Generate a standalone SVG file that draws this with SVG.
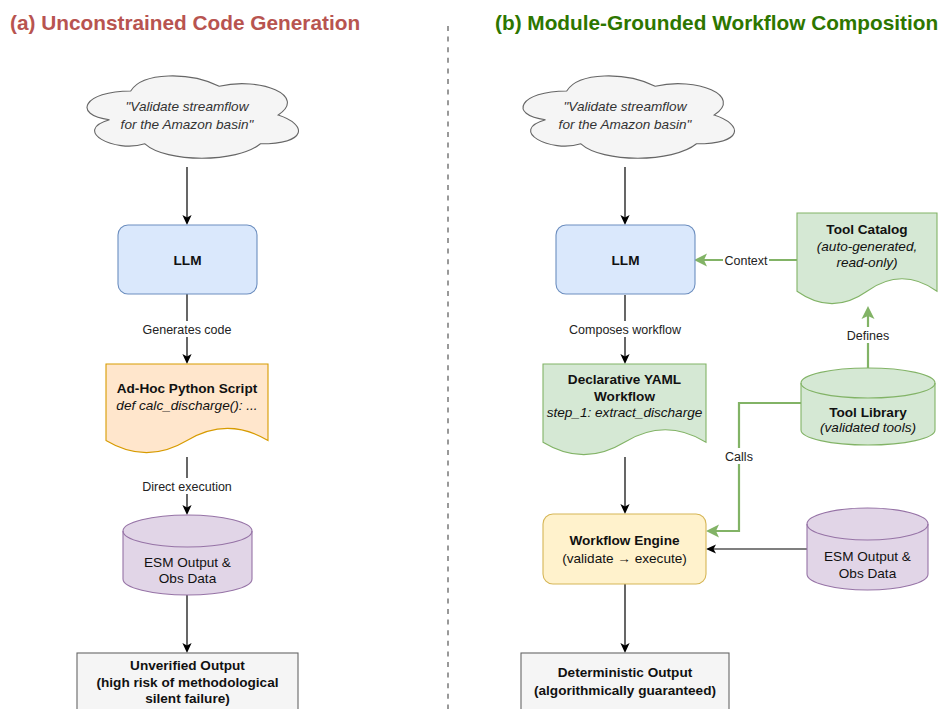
<svg xmlns="http://www.w3.org/2000/svg" width="940" height="709" viewBox="0 0 940 709">
<defs>
<style>
text{font-family:"Liberation Sans",Arial,Helvetica,sans-serif;}
.title{font-size:20.8px;font-weight:bold;}
.t{font-size:13.6px;fill:#111;text-anchor:middle;}
.b{font-weight:bold;}
.i{font-style:italic;}
.cl{font-size:13.6px;fill:#333;font-style:italic;text-anchor:middle;}
.lbl{font-size:12.5px;fill:#222;text-anchor:middle;}
.k{fill:none;stroke:#000;stroke-width:1.2;}
.g{fill:none;stroke:#82b366;stroke-width:2.2;}
.bg{fill:#fff;}
.cloud{fill:#f5f5f5;stroke:#666;stroke-width:1.1;}
.blue{fill:#dae8fc;stroke:#6c8ebf;stroke-width:1.1;}
.orange{fill:#ffe6cc;stroke:#d79b00;stroke-width:1.1;}
.green{fill:#d5e8d4;stroke:#82b366;stroke-width:1.1;}
.purple{fill:#e1d5e7;stroke:#9673a6;stroke-width:1.1;}
.yellow{fill:#fff2cc;stroke:#d6b656;stroke-width:1.1;}
.gray{fill:#f5f5f5;stroke:#666;stroke-width:1.1;}
</style>
<marker id="ab" markerUnits="userSpaceOnUse" markerWidth="14" markerHeight="14" viewBox="-6 -7 14 14" refX="0" refY="0" orient="auto">
<path d="M6,0 L-4,-4.6 L-1.5,0 L-4,4.6 Z" fill="#000"/>
</marker>
<marker id="ag" markerUnits="userSpaceOnUse" markerWidth="18" markerHeight="18" viewBox="-8 -9 18 18" refX="0" refY="0" orient="auto">
<path d="M7,0 L-6,-6.5 L-3,0 L-6,6.5 Z" fill="#82b366"/>
</marker>
<path id="cloudShape" d="M130.7,91 C83.5,91 71.7,115 109.5,119.8 C71.7,130.4 114.2,153.4 144.9,143.8 C166.1,163 236.9,163 260.5,143.8 C307.7,143.8 307.7,124.6 278.2,115 C307.7,95.8 260.5,76.6 219.2,86.2 C189.7,71.8 142.5,71.8 130.7,91 Z"/>
</defs>
<rect x="0" y="0" width="940" height="709" fill="#ffffff"/>

<g id="titles">
<text class="title" x="10" y="30" fill="#b85450">(a) Unconstrained Code Generation</text>
<text class="title" x="495" y="30" fill="#2d7600">(b) Module-Grounded Workflow Composition</text>
</g>

<g id="divider">
<line x1="448" y1="26" x2="448" y2="709" stroke="#999" stroke-width="2" stroke-dasharray="5 5.6"/>
</g>

<g id="connectors">
<path class="k" d="M187,167 V219" marker-end="url(#ab)"/>
<path class="k" d="M187,294 V358" marker-end="url(#ab)"/>
<path class="k" d="M187,457 V509" marker-end="url(#ab)"/>
<path class="k" d="M187,595 V647" marker-end="url(#ab)"/>
<path class="k" d="M625,167 V219" marker-end="url(#ab)"/>
<path class="k" d="M625,295 V358" marker-end="url(#ab)"/>
<path class="k" d="M625,457 V508" marker-end="url(#ab)"/>
<path class="k" d="M625,584 V647" marker-end="url(#ab)"/>
<path class="k" d="M807,549 H712" marker-end="url(#ab)"/>
<path class="g" d="M797,260 H701" marker-end="url(#ag)"/>
<path class="g" d="M868,368 V313" marker-end="url(#ag)"/>
<path class="g" d="M801,403 H739 V531 H713" marker-end="url(#ag)"/>
<rect class="bg" x="141" y="321" width="92" height="16"/>
<text class="lbl" x="187" y="333.5">Generates code</text>
<rect class="bg" x="141" y="478" width="92" height="16"/>
<text class="lbl" x="187" y="490.5">Direct execution</text>
<rect class="bg" x="567" y="321" width="116" height="16"/>
<text class="lbl" x="625" y="333.5">Composes workflow</text>
<rect class="bg" x="723" y="252" width="46" height="16"/>
<text class="lbl" x="746" y="264.5">Context</text>
<rect class="bg" x="845" y="327" width="46" height="16"/>
<text class="lbl" x="868" y="339.5">Defines</text>
<rect class="bg" x="724" y="448" width="30" height="16"/>
<text class="lbl" x="739" y="460.5">Calls</text>
</g>

<g id="cloud-a">
<use href="#cloudShape" class="cloud"/>
<text class="cl" x="187" y="111">"Validate streamflow</text>
<text class="cl" x="187" y="128.5">for the Amazon basin"</text>
</g>

<g id="llm-a">
<rect class="blue" x="118" y="225" width="139" height="69" rx="10"/>
<text class="t b" x="187.5" y="265">LLM</text>
</g>

<g id="script-a">
<path class="orange" d="M106,364 H268 V440.5 Q227.5,416.2 187,440.5 Q146.5,464.8 106,440.5 Z"/>
<text class="t b" x="187" y="392.5">Ad-Hoc Python Script</text>
<text class="t i" x="187" y="409.5">def calc_discharge(): ...</text>
</g>

<g id="data-a">
<path class="purple" d="M123,531 A64.5,16 0 0 1 252,531 V579 A64.5,16 0 0 1 123,579 Z"/>
<path class="purple" fill="none" d="M123,531 A64.5,16 0 0 0 252,531" style="fill:none"/>
<text class="t" x="187.5" y="566.5">ESM Output &amp;</text>
<text class="t" x="187.5" y="583">Obs Data</text>
</g>

<g id="output-a">
<rect class="gray" x="77" y="653" width="221" height="70"/>
<text class="t b" x="187.5" y="670">Unverified Output</text>
<text class="t b" x="187.5" y="686.5">(high risk of methodological</text>
<text class="t b" x="187.5" y="703">silent failure)</text>
</g>

<g id="cloud-b">
<use href="#cloudShape" class="cloud" transform="translate(436,0)"/>
<text class="cl" x="625" y="111">"Validate streamflow</text>
<text class="cl" x="625" y="128.5">for the Amazon basin"</text>
</g>

<g id="llm-b">
<rect class="blue" x="556" y="225" width="139" height="69" rx="10"/>
<text class="t b" x="625.5" y="265">LLM</text>
</g>

<g id="catalog-b">
<path class="green" d="M797,213 H937 V291.2 Q902,266.4 867,291.2 Q832,316 797,291.2 Z"/>
<text class="t b" x="867" y="234">Tool Catalog</text>
<text class="t i" x="867" y="250.5">(auto-generated,</text>
<text class="t i" x="867" y="267">read-only)</text>
</g>

<g id="yaml-b">
<path class="green" d="M543,364 H706 V442.2 Q665.25,417.4 624.5,442.2 Q583.75,467 543,442.2 Z"/>
<text class="t b" x="624.5" y="384">Declarative YAML</text>
<text class="t b" x="624.5" y="400.5">Workflow</text>
<text class="t i" x="624.5" y="417">step_1: extract_discharge</text>
</g>

<g id="library-b">
<path class="green" d="M801,383 A67,15 0 0 1 935,383 V430 A67,15 0 0 1 801,430 Z"/>
<path class="green" d="M801,383 A67,15 0 0 0 935,383" style="fill:none"/>
<text class="t b" x="868" y="416.5">Tool Library</text>
<text class="t i" x="868" y="432">(validated tools)</text>
</g>

<g id="engine-b">
<rect class="yellow" x="543" y="514" width="163" height="70" rx="10"/>
<text class="t b" x="624.5" y="544.5">Workflow Engine</text>
<text class="t" x="624.5" y="562.5">(validate → execute)</text>
</g>

<g id="data-b">
<path class="purple" d="M807,524 A60.5,16 0 0 1 928,524 V574 A60.5,16 0 0 1 807,574 Z"/>
<path class="purple" d="M807,524 A60.5,16 0 0 0 928,524" style="fill:none"/>
<text class="t" x="867.5" y="561">ESM Output &amp;</text>
<text class="t" x="867.5" y="578">Obs Data</text>
</g>

<g id="output-b">
<rect class="gray" x="521" y="653" width="208" height="70"/>
<text class="t b" x="625" y="677">Deterministic Output</text>
<text class="t b" x="625" y="694.5">(algorithmically guaranteed)</text>
</g>
</svg>
